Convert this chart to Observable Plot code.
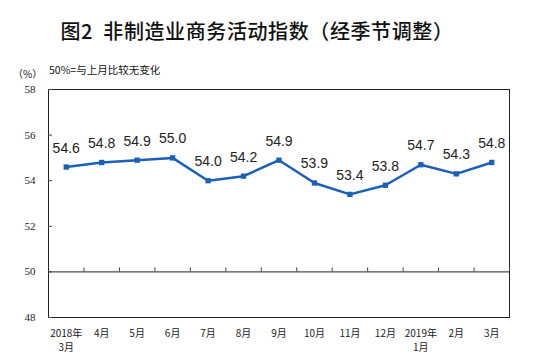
<!DOCTYPE html>
<html>
<head>
<meta charset="utf-8">
<script src="https://cdn.jsdelivr.net/npm/d3@7"></script>
<script src="https://cdn.jsdelivr.net/npm/@observablehq/plot@0.6"></script>
<style>
  body { margin: 0; background: #fff; }
  #wrap { position: relative; width: 554px; height: 361px; overflow: hidden; }
  #chart { position: absolute; left: 0; top: 0; }
  .t { position: absolute; white-space: nowrap; font-family: "Noto Sans CJK SC", sans-serif; color: #111; }
  #title { left: 0; width: 514px; text-align: center; top: 17px; font-size: 20px; font-weight: 500; letter-spacing: 0.6px; line-height: 28px; }
  #unit { left: 13px; top: 66px; font-size: 10px; line-height: 16px; }
  #note { left: 49px; top: 62px; font-size: 10.5px; line-height: 16px; }
</style>
</head>
<body>
<div id="wrap">
  <div id="chart"></div>
  <div class="t" id="title">图2&nbsp;&nbsp;非制造业商务活动指数（经季节调整）</div>
  <div class="t" id="unit">（%）</div>
  <div class="t" id="note">50%=与上月比较无变化</div>
</div>
<script>
const months = ["2018年\n3月", "4月", "5月", "6月", "7月", "8月", "9月", "10月", "11月", "12月", "2019年\n1月", "2月", "3月"];
const values = [54.6, 54.8, 54.9, 55.0, 54.0, 54.2, 54.9, 53.9, 53.4, 53.8, 54.7, 54.3, 54.8];
const yTicks = [48, 50, 52, 54, 56, 58];

const data = months.map((m, i) => ({i, m, v: values[i]}));
const bounds = d3.range(1, months.length + 1).map(i => i - 0.5);
const blue = "#1a5fb8";

const chart = Plot.plot({
  width: 554,
  height: 361,
  marginTop: 89,
  marginBottom: 44,
  marginLeft: 48,
  marginRight: 45,
  style: {background: "#fff", overflow: "visible"},
  x: {type: "linear", domain: [-0.5, months.length - 0.5]},
  y: {domain: [48, 58]},
  marks: [
    Plot.frame({stroke: "#222", strokeWidth: 1}),
    Plot.ruleY([50], {stroke: "#222", strokeWidth: 1}),
    Plot.ruleX(bounds, {x: d => d, y1: 50, y2: 50, insetBottom: 4, stroke: "#444", strokeWidth: 1}),
    Plot.axisY({ticks: yTicks, tickSize: -4, tickPadding: 17, stroke: "#444",
      fontFamily: "Liberation Serif", fontSize: 11, fill: "#222", label: null}),
    Plot.axisX({ticks: d3.range(months.length), tickFormat: i => months[i], tickSize: 0, tickPadding: 10,
      fontFamily: "Noto Sans CJK SC", fontSize: 10, fill: "#222", lineHeight: 1.35, label: null}),
    Plot.line(data, {x: "i", y: "v", stroke: blue, strokeWidth: 2.5}),
    Plot.dot(data, {x: "i", y: "v", symbol: "square", r: 3, fill: blue, stroke: null}),
    Plot.text(data, {x: "i", y: "v", text: d => d.v.toFixed(1), dy: -19,
      fontFamily: "Liberation Sans", fontSize: 14, fill: "#222"})
  ]
});
document.getElementById("chart").appendChild(chart);
</script>
</body>
</html>
